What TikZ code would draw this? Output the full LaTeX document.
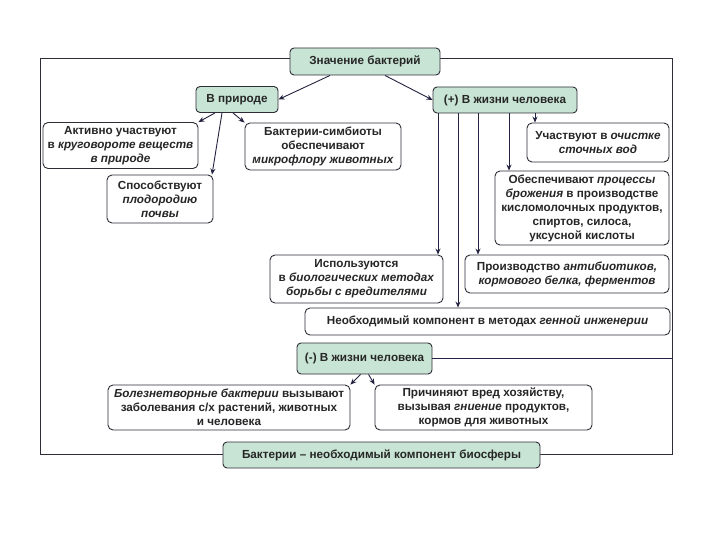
\documentclass[tikz,border=0pt]{standalone}
\usepackage{fontspec}
\setmainfont{Liberation Sans}
\usetikzlibrary{arrows.meta}
\definecolor{boxgreen}{RGB}{200,228,212}
\definecolor{edge}{RGB}{45,45,55}
\definecolor{arr}{RGB}{35,35,65}
\begin{document}
\begin{tikzpicture}[x=1pt,y=-1pt,
  every node/.style={font=\bfseries\fontsize{11.7}{14}\selectfont, align=center, inner sep=1pt, text=black!85},
  gbox/.style={draw=edge, line width=0.9pt, rounded corners=4pt, fill=boxgreen},
  wbox/.style={draw=edge, line width=0.9pt, rounded corners=5pt, fill=white},
  frame/.style={draw=edge, line width=0.9pt},
  arrow/.style={draw=arr, line width=0.9pt, -{Stealth[length=6pt,width=5pt]}},
  plain/.style={draw=arr, line width=0.9pt}]
\useasboundingbox (0,0) rectangle (720,540);
\draw[frame] (40,58) rectangle (672,454);
\coordinate (rf) at (672,0);
% green headers
\node[gbox, minimum width=150pt, minimum height=27pt] (title) at (365,61.5) {Значение бактерий};
\node[gbox, minimum width=82pt, minimum height=26pt] (nat) at (237,99.5) {В природе};
\node[gbox, minimum width=144pt, minimum height=26pt] (plus) at (505,100) {(+) В жизни человека};
\node[gbox, minimum width=135pt, minimum height=31pt] (minus) at (364.5,358.5) {(-) В жизни человека};
\node[gbox, minimum width=317pt, minimum height=26pt] (bottom) at (381.5,455) {Бактерии – необходимый компонент биосферы};
% nature boxes
\node[wbox, minimum width=155pt, minimum height=46pt] (a1) at (120.5,145.5) {Активно участвуют\\ в \textit{круговороте веществ}\\ \textit{в природе}};
\node[wbox, minimum width=156pt, minimum height=47pt] (a2) at (323,146.5) {Бактерии-симбиоты\\ обеспечивают\\ \textit{микрофлору животных}};
\node[wbox, minimum width=106pt, minimum height=48pt] (a3) at (160,199) {Способствуют\\ \textit{плодородию}\\ \textit{почвы}};
% plus boxes
\node[wbox, minimum width=142pt, minimum height=39pt] (b1) at (598,142.5) {Участвуют в \textit{очистке}\\ \textit{сточных вод}};
\node[wbox, minimum width=174pt, minimum height=74pt] (b2) at (582,208) {Обеспечивают \textit{процессы}\\ \textit{брожения} в производстве\\ кисломолочных продуктов,\\ спиртов, силоса,\\ уксусной кислоты};
\node[wbox, minimum width=173pt, minimum height=48pt] (b3) at (356.5,279) {Используются\\ в \textit{биологических методах}\\ \textit{борьбы с вредителями}};
\node[wbox, minimum width=204pt, minimum height=38pt] (b4) at (567,274) {Производство \textit{антибиотиков,}\\ \textit{кормового белка, ферментов}};
\node[wbox, minimum width=365pt, minimum height=27pt] (b5) at (487.5,321.5) {Необходимый компонент в методах \textit{генной инженерии}};
% minus boxes
\node[wbox, minimum width=242pt, minimum height=45pt] (c1) at (229,407.5) {\textit{Болезнетворные бактерии} вызывают\\ заболевания с/х растений, животных\\ и человека};
\node[wbox, minimum width=217pt, minimum height=45pt] (c2) at (483.5,407.5) {Причиняют вред хозяйству,\\ вызывая \textit{гниение} продуктов,\\ кормов для животных};
% connectors
\draw[arrow] ([xshift=-35pt]title.south) -- (nat.east);
\draw[arrow] ([xshift=20pt]title.south) -- (plus.west);
\draw[arrow] ([xshift=-22pt]nat.south) -- (a1.north east);
\draw[arrow] ([xshift=-15pt]nat.south) -- ([xshift=52pt]a3.north);
\draw[arrow] ([xshift=-4pt]nat.south) -- (a2.north west);
\coordinate (x1) at (438,0);
\coordinate (x2) at (458,0);
\coordinate (x3) at (478,0);
\coordinate (x4) at (509,0);
\coordinate (x5) at (535,0);
\draw[arrow] (plus.south -| x1) -- (b3.north -| x1);
\draw[arrow] (plus.south -| x2) -- (b5.north -| x2);
\draw[arrow] (plus.south -| x3) -- (b4.north -| x3);
\draw[arrow] (plus.south -| x4) -- (b2.north -| x4);
\draw[arrow] (plus.south -| x5) -- (b1.north -| x5);
\draw[plain] (minus.east) -- (minus.east -| rf);
\draw[arrow] ([xshift=-4pt]minus.south) -- (c1.north east);
\draw[arrow] ([xshift=4pt]minus.south) -- (c2.north west);
\end{tikzpicture}
\end{document}
